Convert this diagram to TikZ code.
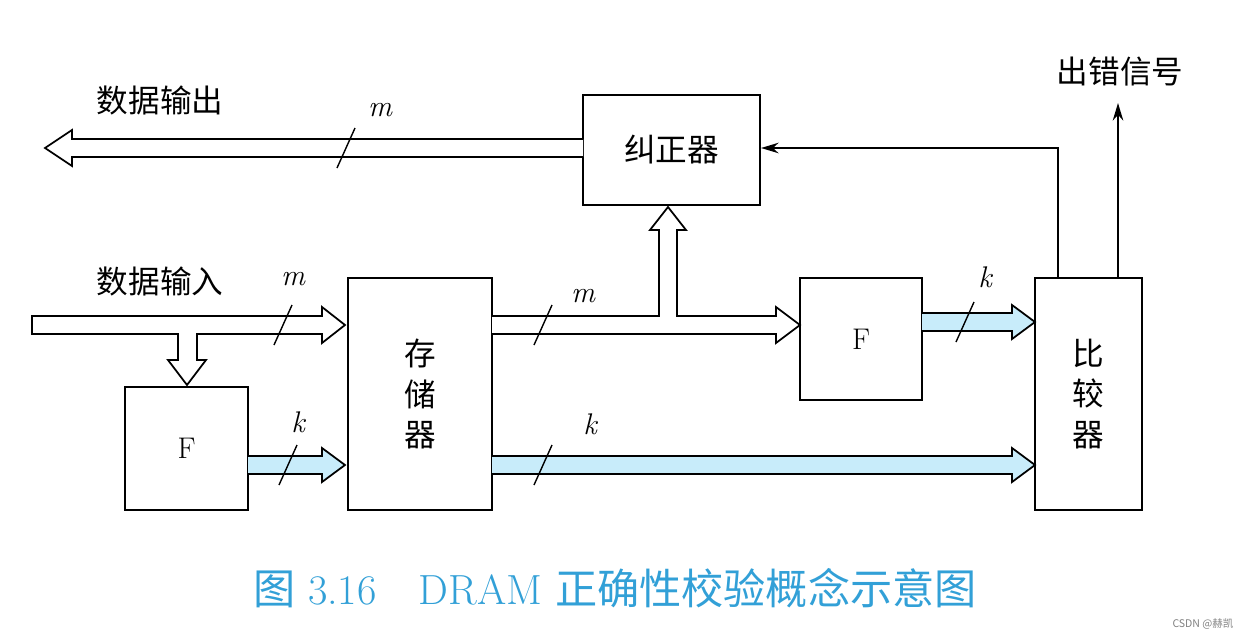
\documentclass[tikz,border=0pt]{standalone}
\usepackage{fontspec}
\newfontfamily\cjk{Noto Sans CJK SC}
\usetikzlibrary{arrows.meta}
\definecolor{lb}{RGB}{200,236,250}
\definecolor{cap}{RGB}{50,160,215}
\begin{document}
\begin{tikzpicture}[x=0.02cm,y=-0.02cm,
  box/.style={draw,line width=1.2pt,inner sep=0},
  hol/.style={draw,line width=1pt,fill=white,line join=miter},
  blu/.style={draw,line width=1pt,fill=lb,line join=miter},
  sl/.style={line width=0.8pt},
  lab/.style={font=\fontsize{18}{21}\selectfont\cjk},
  ml/.style={font=\fontsize{17}{20}\selectfont\itshape}]
\useasboundingbox (0,0) rectangle (1244,640);
% boxes
\node[box,minimum width=3.54cm,minimum height=2.2cm,lab] (jz) at (671.5,150) {纠正器};
\node[box,minimum width=2.88cm,minimum height=4.64cm,lab,align=center] (mem) at (420,394) {存\\[2pt]储\\[2pt]器};
\node[box,minimum width=2.46cm,minimum height=2.46cm,font=\fontsize{17}{20}\selectfont] (fl) at (186.5,448.5) {F};
\node[box,minimum width=2.44cm,minimum height=2.44cm,font=\fontsize{17}{20}\selectfont] (fr) at (861,339) {F};
\node[box,minimum width=2.14cm,minimum height=4.64cm,lab,align=center] (cmp) at (1088.5,394) {比\\[2pt]较\\[2pt]器};
% hollow arrows
\path[hol] (583,139) -- (72,139) -- (72,130) -- (45,148) -- (72,166) -- (72,157) -- (583,157);
\path[hol] (32,316) -- (322,316) -- (322,307) -- (345,325) -- (322,343) -- (322,334) -- (197,334) -- (197,360) -- (206,360) -- (187,385) -- (168,360) -- (178,360) -- (178,334) -- (32,334) -- cycle;
\path[hol] (492,316) -- (659,316) -- (659,230) -- (650,230) -- (668,207) -- (686,230) -- (677,230) -- (677,316) -- (776,316) -- (776,307) -- (800,325) -- (776,343) -- (776,334) -- (492,334);
% blue arrows
\path[blu] (248,456) -- (322,456) -- (322,448) -- (345,465) -- (322,482) -- (322,474) -- (248,474);
\path[blu] (922,313) -- (1012,313) -- (1012,305) -- (1035,322) -- (1012,339) -- (1012,331) -- (922,331);
\path[blu] (492,456) -- (1012,456) -- (1012,448) -- (1035,465) -- (1012,482) -- (1012,474) -- (492,474);
% thin arrows
\coordinate (c1) at (1058,278); \coordinate (c1t) at (1058,148);
\draw[line width=1pt,-{Stealth[length=10pt,width=6pt]}] (c1) -- (c1t) -- (c1t -| jz.east);
\coordinate (c2) at (1118,278); \coordinate (c2t) at (1118,103);
\draw[line width=1pt,-{Stealth[length=10pt,width=6pt]}] (c2) -- (c2t);
% slashes and labels
\foreach \x/\y in {346/148,283/325,288/465,543/325,965/322,543/465}
  \draw[sl] (\x-9,\y+20) -- (\x+9,\y-20);
\node[ml] (l1) at (380,110) {m};
\node[ml] (l2) at (293,279) {m};
\node[ml] (l3) at (298,422) {k};
\node[ml] (l4) at (583,296) {m};
\node[ml] (l5) at (985,277) {k};
\node[ml] (l6) at (590,424) {k};
\node[lab] (t1) at (160,100) {数据输出};
\node[lab] (t2) at (160,281) {数据输入};
\node[lab] (t3) at (1120,72) {出错信号};
\node[text=cap,font=\fontsize{24}{28}\selectfont] (capt) at (615,588) {{\cjk 图} 3.16\quad DRAM {\cjk 正确性校验概念示意图}};
\node[text=gray,font=\fontsize{6}{7}\selectfont\cjk] (wm) at (1203,624) {CSDN @赫凯};
\end{tikzpicture}
\end{document}
